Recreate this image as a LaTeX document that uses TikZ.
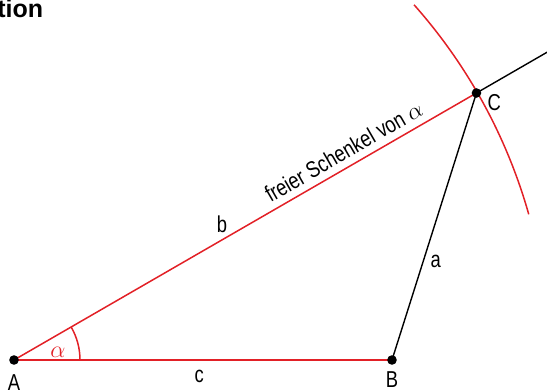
\documentclass[tikz,border=0pt]{standalone}
\usepackage{fontspec}
\setmainfont{Liberation Sans}[FakeStretch=0.8]
\newfontfamily\headfont{Liberation Sans}
\usetikzlibrary{positioning, calc}
\definecolor{kreisrot}{RGB}{226,32,38}

\begin{document}
\begin{tikzpicture}[x=0.5pt, y=0.5pt,
    font=\fontsize{11.5}{13.8}\selectfont,
    punkt/.style={circle, fill=black, inner sep=0pt, minimum size=4.8pt},
    rotlinie/.style={kreisrot, line width=0.75pt},
    schwarzlinie/.style={black, line width=0.7pt}]

  \useasboundingbox (0,0) rectangle (547,391);

  % --- Title (cut off) ---
  \node[anchor=base west, inner sep=0pt, font=\headfont\fontsize{12.5}{14}\selectfont\bfseries]
    (titel) at (-3,373) {tion};

  % --- Points ---
  \coordinate (A) at (14,31);
  \coordinate (B) at (392,31);
  \coordinate (C) at ($(A)+(30:534)$);
  \coordinate (Cend) at ($(A)!1.165!(C)$);

  % --- Arc round A with radius b ---
  \draw[rotlinie] ($(A)+(15.8:535)$) arc[start angle=15.8, end angle=41.6, radius=535];

  % --- Sides ---
  \draw[rotlinie] (A) -- node[pos=0.49, below=1.5pt, black] {c} (B);
  \draw[rotlinie] (A) -- node[pos=0.45, above, black] {b}
    node[pos=0.73, above, sloped, black] {freier Schenkel von $\alpha$} (C);
  \draw[schwarzlinie] (C) -- (Cend);
  \draw[schwarzlinie] (B) -- node[pos=0.37, right, black] {a} (C);

  % --- Angle alpha ---
  \draw[rotlinie] ($(A)+(0:66)$) arc[start angle=0, end angle=30, radius=66];
  \node[kreisrot] (alpha) at ($(A)+(44,8)$) {$\alpha$};

  % --- Dots and labels ---
  \node[punkt, label={[yshift=-1pt]below:A}] (pA) at (A) {};
  \node[punkt, label={[yshift=0.5pt]below:B}] (pB) at (B) {};
  \node[punkt, label={[xshift=-0.5pt, yshift=-5pt]right:C}] (pC) at (C) {};

\end{tikzpicture}
\end{document}
